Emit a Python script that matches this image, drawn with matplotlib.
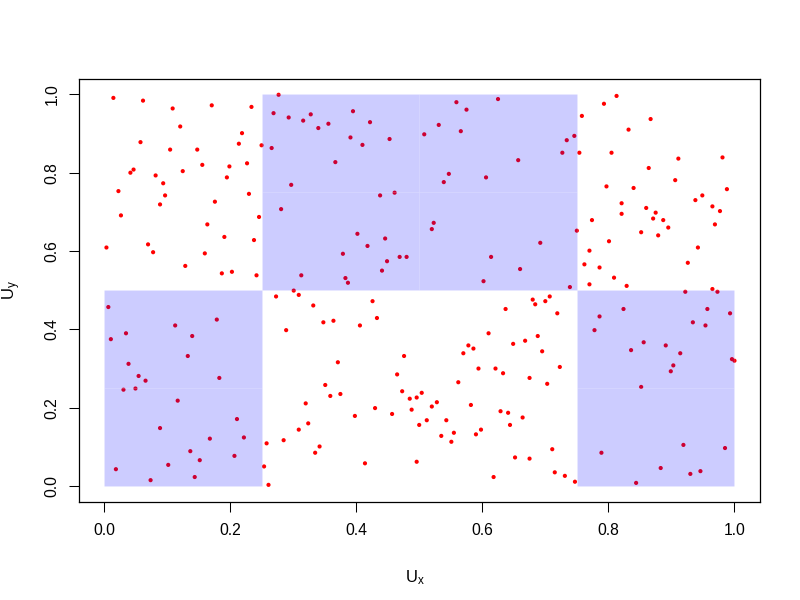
import matplotlib
matplotlib.use("Agg")
import matplotlib.pyplot as plt
from matplotlib.patches import Rectangle

plt.rcParams['font.family'] = ['Liberation Sans', 'DejaVu Sans']
plt.rcParams['mathtext.fontset'] = 'custom'
plt.rcParams['mathtext.rm'] = 'Liberation Sans'
plt.rcParams['mathtext.it'] = 'Liberation Sans'

pts = [
    # upper-left region
    (0.015,0.991),(0.062,0.984),(0.109,0.964),(0.171,0.972),(0.234,0.968),(0.277,0.999),(0.269,0.952),
    (0.293,0.941),(0.316,0.933),(0.328,0.949),(0.340,0.914),(0.121,0.918),(0.219,0.901),(0.058,0.878),
    (0.105,0.859),(0.148,0.859),(0.214,0.874),(0.250,0.870),(0.266,0.863),(0.047,0.808),(0.042,0.800),
    (0.082,0.793),(0.125,0.804),(0.156,0.820),(0.199,0.816),(0.227,0.824),(0.195,0.788),(0.094,0.773),
    (0.297,0.769),(0.023,0.753),(0.097,0.742),(0.089,0.719),(0.176,0.726),(0.230,0.746),(0.281,0.707),
    (0.027,0.691),(0.246,0.687),(0.164,0.668),(0.191,0.636),(0.238,0.628),(0.004,0.609),(0.070,0.617),
    (0.078,0.597),(0.160,0.594),(0.129,0.562),(0.187,0.543),(0.203,0.547),(0.242,0.538),(0.313,0.538),
    (0.301,0.499),(0.309,0.488),
    # upper-middle region
    (0.356,0.925),(0.395,0.957),(0.422,0.929),(0.391,0.890),(0.410,0.871),(0.453,0.886),(0.367,0.827),
    (0.438,0.742),(0.461,0.749),(0.402,0.644),(0.446,0.632),(0.418,0.613),(0.379,0.593),(0.449,0.574),
    (0.469,0.585),(0.480,0.585),(0.441,0.550),(0.383,0.531),(0.387,0.519),(0.559,0.980),(0.625,0.988),
    (0.575,0.961),(0.531,0.922),(0.566,0.906),(0.508,0.898),(0.657,0.832),(0.547,0.797),(0.539,0.776),
    (0.606,0.788),(0.523,0.672),(0.520,0.656),(0.614,0.585),(0.660,0.554),(0.602,0.523),
    # upper-right region
    (0.813,0.996),(0.793,0.976),(0.758,0.945),(0.867,0.937),(0.832,0.910),(0.746,0.894),(0.734,0.883),
    (0.727,0.851),(0.754,0.851),(0.805,0.851),(0.911,0.836),(0.981,0.839),(0.864,0.812),(0.906,0.781),
    (0.797,0.765),(0.840,0.761),(0.988,0.758),(0.949,0.742),(0.938,0.730),(0.821,0.722),(0.860,0.710),
    (0.875,0.698),(0.965,0.714),(0.977,0.702),(0.821,0.695),(0.871,0.683),(0.887,0.679),(0.774,0.679),
    (0.895,0.660),(0.969,0.668),(0.750,0.652),(0.852,0.648),(0.879,0.640),(0.692,0.621),(0.801,0.625),
    (0.770,0.601),(0.942,0.609),(0.926,0.570),(0.762,0.566),(0.786,0.558),(0.809,0.532),(0.770,0.515),
    (0.829,0.511),(0.739,0.508),(0.922,0.496),(0.965,0.503),(0.973,0.496),
    # lower-left region
    (0.273,0.484),(0.332,0.461),(0.289,0.398),(0.007,0.457),(0.179,0.425),(0.113,0.410),(0.035,0.390),
    (0.140,0.383),(0.011,0.375),(0.133,0.332),(0.039,0.312),(0.055,0.281),(0.066,0.269),(0.183,0.276),
    (0.031,0.246),(0.050,0.249),(0.117,0.218),(0.211,0.171),(0.089,0.148),(0.168,0.121),(0.222,0.124),
    (0.137,0.089),(0.152,0.066),(0.207,0.077),(0.102,0.054),(0.019,0.043),(0.074,0.015),(0.144,0.023),
    (0.320,0.211),(0.324,0.160),(0.309,0.144),(0.285,0.117),(0.258,0.109),(0.342,0.101),(0.335,0.085),
    (0.254,0.050),(0.261,0.003),
    # lower-middle region
    (0.426,0.472),(0.433,0.429),(0.348,0.418),(0.364,0.422),(0.406,0.410),(0.371,0.316),(0.476,0.332),
    (0.465,0.285),(0.351,0.258),(0.359,0.230),(0.375,0.235),(0.473,0.242),(0.485,0.223),(0.496,0.226),
    (0.504,0.238),(0.488,0.195),(0.528,0.214),(0.520,0.203),(0.430,0.199),(0.457,0.184),(0.398,0.179),
    (0.512,0.168),(0.543,0.168),(0.500,0.156),(0.555,0.136),(0.535,0.128),(0.551,0.113),(0.598,0.144),
    (0.590,0.132),(0.414,0.058),(0.496,0.062),(0.618,0.023),(0.652,0.073),(0.675,0.070),(0.637,0.452),
    (0.610,0.390),(0.578,0.359),(0.586,0.351),(0.570,0.339),(0.649,0.363),(0.668,0.371),(0.594,0.300),
    (0.621,0.300),(0.633,0.288),(0.675,0.276),(0.562,0.265),(0.582,0.207),(0.629,0.191),(0.641,0.187),
    (0.664,0.175),(0.644,0.156),
    # lower-right region
    (0.680,0.476),(0.707,0.484),(0.700,0.472),(0.684,0.464),(0.719,0.441),(0.688,0.383),(0.695,0.344),
    (0.723,0.304),(0.703,0.261),(0.711,0.094),(0.715,0.035),(0.731,0.026),(0.747,0.011),(0.824,0.452),
    (0.786,0.433),(0.778,0.398),(0.957,0.452),(0.993,0.441),(0.934,0.418),(0.954,0.410),(0.856,0.367),
    (0.891,0.359),(0.836,0.347),(0.914,0.339),(0.996,0.324),(1.000,0.320),(0.903,0.308),(0.899,0.293),
    (0.852,0.253),(0.919,0.105),(0.985,0.097),(0.789,0.085),(0.883,0.046),(0.930,0.031),(0.946,0.038),
    (0.844,0.008),
]
ux = [p[0] for p in pts]
uy = [p[1] for p in pts]

# shaded cells (lower-left corner x, y) of size 0.25
cell_x = [0.00, 0.00, 0.25, 0.25, 0.50, 0.50, 0.75, 0.75]
cell_y = [0.00, 0.25, 0.50, 0.75, 0.50, 0.75, 0.00, 0.25]
cell_size = 0.25

ticks = [0.0, 0.2, 0.4, 0.6, 0.8, 1.0]
tick_labels = ["0.0", "0.2", "0.4", "0.6", "0.8", "1.0"]

fig = plt.figure(figsize=(8, 6), dpi=100)
ax = fig.add_axes([78.7/800, 1 - 501.7/600, (759.7-78.7)/800, (501.7-78.7)/600])

ax.scatter(ux, uy, s=9, c='#ff0000', edgecolors='none', zorder=2)
for cx, cy in zip(cell_x, cell_y):
    ax.add_patch(Rectangle((cx, cy), cell_size, cell_size, facecolor=(0, 0, 1, 0.2),
                           edgecolor=(1, 1, 1, 0.15), linewidth=0.5, zorder=3))

ax.set_xlim(-0.04, 1.04)
ax.set_ylim(-0.04, 1.04)
ax.set_xticks(ticks)
ax.set_xticklabels(tick_labels)
ax.set_yticks(ticks)
ax.set_yticklabels(tick_labels, rotation=90, va='center')
ax.tick_params(direction='out', length=7.3, width=0.75, labelsize=11.3, color='black')
ax.tick_params(axis='x', pad=8)
ax.tick_params(axis='y', pad=6.5)
for s in ax.spines.values():
    s.set_linewidth(0.9)
    s.set_color('black')

fig.text(415/800, 1 - 582.7/600, r'$\mathrm{U}_\mathrm{x}$', ha='center', va='baseline', fontsize=12)
fig.text(12/800, 1 - 290/600, r'$\mathrm{U}_\mathrm{y}$', ha='center', va='center', fontsize=12, rotation=90)

fig.savefig('out.png', dpi=100)
